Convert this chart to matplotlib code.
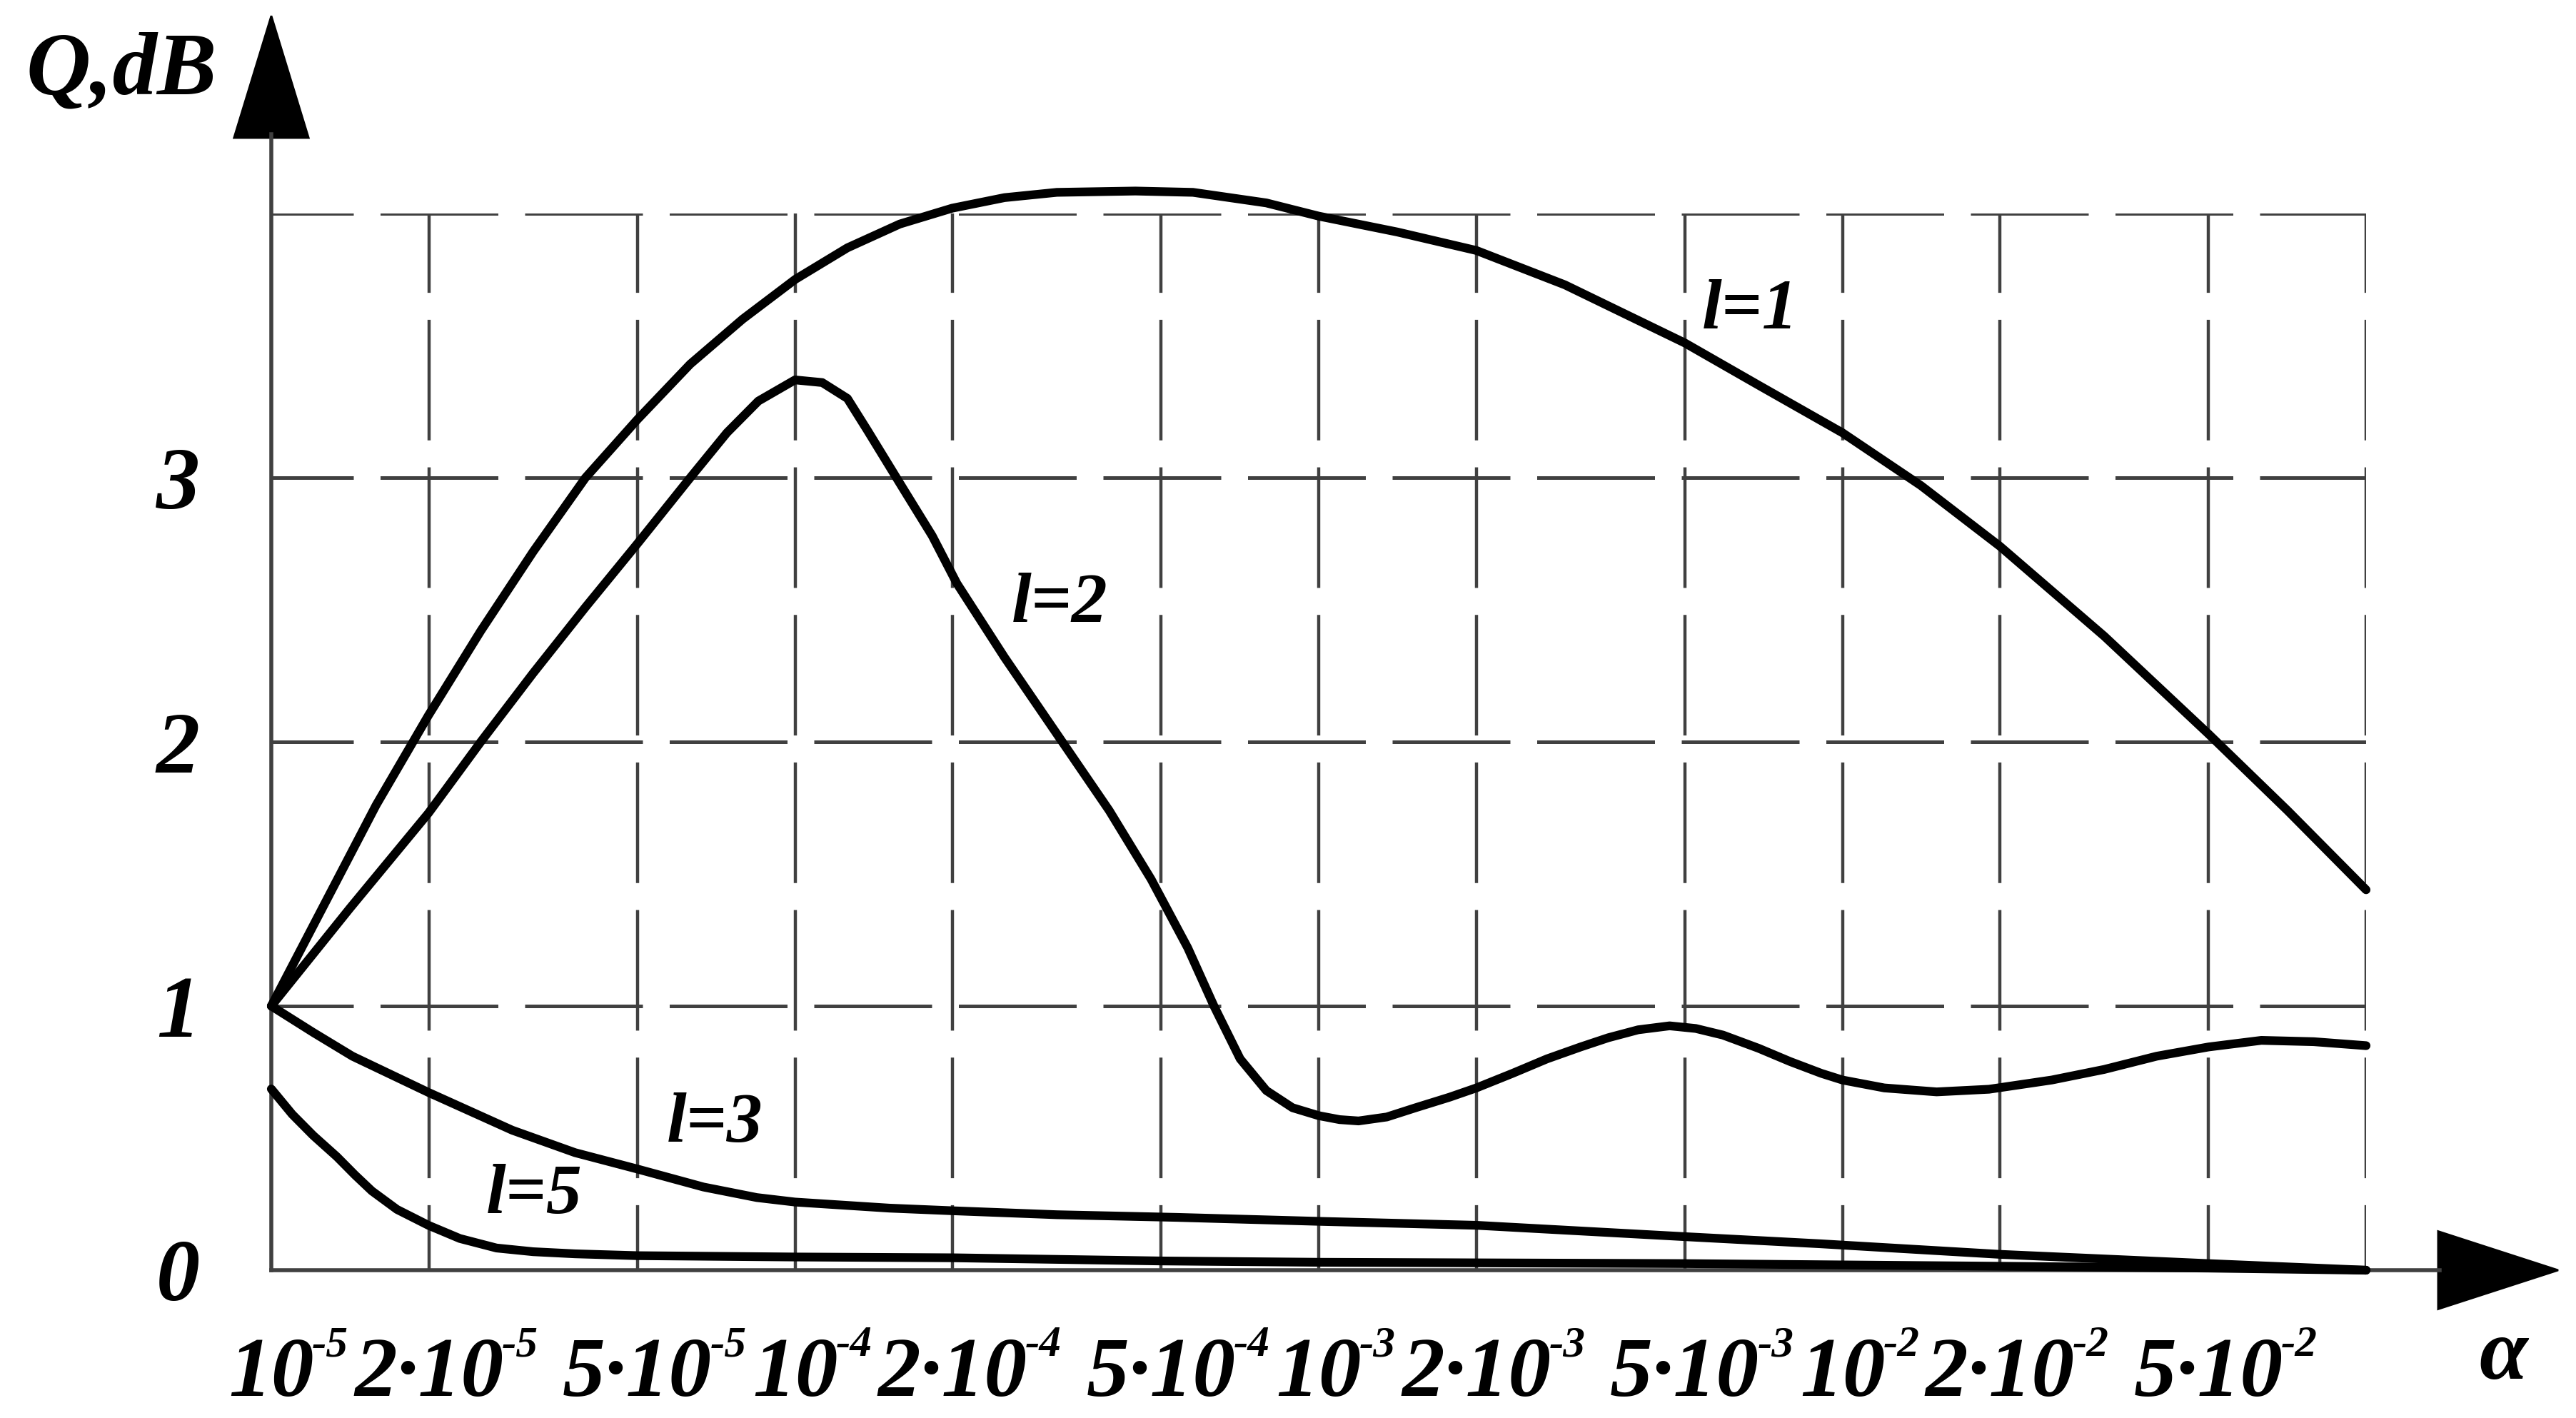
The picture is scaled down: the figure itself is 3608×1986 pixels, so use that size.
import numpy as np
import matplotlib.pyplot as plt
from matplotlib.patches import Polygon

# x ticks (alpha) and labels: base text + exponent
x_ticks = [1e-5, 2e-5, 5e-5, 1e-4, 2e-4, 5e-4, 1e-3, 2e-3, 5e-3, 1e-2, 2e-2, 5e-2]
x_base = ['10', '2\u00b710', '5\u00b710', '10', '2\u00b710', '5\u00b710',
          '10', '2\u00b710', '5\u00b710', '10', '2\u00b710', '5\u00b710']
x_exp = ['-5', '-5', '-5', '-4', '-4', '-4', '-3', '-3', '-3', '-2', '-2', '-2']
x_grid = [2e-5, 5e-5, 1e-4, 2e-4, 5e-4, 1e-3, 2e-3, 5e-3, 1e-2, 2e-2, 5e-2, 1e-1]
y_ticks = [0, 1, 2, 3]
y_labels = ['0', '1', '2', '3']
y_grid = [1, 2, 3, 4]

# curves, x given as log10(alpha)
l1_logx = [-5.0, -4.9, -4.8, -4.7, -4.6, -4.5, -4.4, -4.301, -4.2, -4.1,
           -4.0, -3.9, -3.8, -3.7, -3.6, -3.5, -3.35, -3.24, -3.1, -3.0,
           -2.85, -2.699, -2.53, -2.301, -2.16, -2.0, -1.85, -1.699, -1.5, -1.301,
           -1.15, -1.0]
l1_q = [1.0, 1.38, 1.76, 2.1, 2.42, 2.72, 3.0, 3.22, 3.43, 3.6,
        3.75, 3.87, 3.96, 4.02, 4.06, 4.08, 4.085, 4.08, 4.04, 3.99,
        3.93, 3.86, 3.73, 3.51, 3.35, 3.17, 2.97, 2.74, 2.40, 2.03,
        1.74, 1.44]

l2_logx = [-5.0, -4.85, -4.7, -4.6, -4.5, -4.4, -4.301, -4.2, -4.13, -4.07,
           -4.0, -3.948, -3.9, -3.862, -3.794, -3.738, -3.691, -3.6, -3.5, -3.4,
           -3.32, -3.25, -3.2, -3.15, -3.1, -3.05, -3.0, -2.96, -2.924, -2.87,
           -2.815, -2.75, -2.699, -2.63, -2.564, -2.5, -2.447, -2.39, -2.33, -2.28,
           -2.228, -2.16, -2.1, -2.04, -2.0, -1.92, -1.82, -1.72, -1.6, -1.5,
           -1.4, -1.301, -1.2, -1.1, -1.0]
l2_q = [1.0, 1.37, 1.73, 2.0, 2.26, 2.51, 2.75, 3.0, 3.17, 3.29,
        3.37, 3.36, 3.3, 3.18, 2.96, 2.78, 2.60, 2.32, 2.03, 1.74,
        1.48, 1.22, 1.0, 0.80, 0.68, 0.615, 0.585, 0.57, 0.565, 0.58,
        0.615, 0.655, 0.69, 0.745, 0.80, 0.845, 0.88, 0.91, 0.925, 0.915,
        0.89, 0.84, 0.79, 0.745, 0.72, 0.69, 0.675, 0.685, 0.72, 0.76,
        0.81, 0.845, 0.87, 0.865, 0.85]

l3_logx = [-5.0, -4.92, -4.845, -4.7, -4.54, -4.42, -4.301, -4.175, -4.073, -4.0,
           -3.82, -3.699, -3.5, -3.271, -3.0, -2.699, -2.301, -2.042, -1.699, -1.301,
           -1.0]
l3_q = [1.0, 0.90, 0.81, 0.673, 0.53, 0.445, 0.383, 0.315, 0.275, 0.258,
        0.235, 0.225, 0.21, 0.20, 0.185, 0.17, 0.127, 0.10, 0.06, 0.025,
        0.0]

l5_logx = [-5.0, -4.96, -4.92, -4.875, -4.84, -4.808, -4.76, -4.7, -4.64, -4.57,
           -4.5, -4.42, -4.3, -4.0, -3.699, -3.301, -3.0, -2.301, -2.0, -1.699,
           -1.301, -1.0]
l5_q = [0.686, 0.59, 0.51, 0.43, 0.36, 0.30, 0.23, 0.17, 0.12, 0.084,
        0.07, 0.062, 0.055, 0.05, 0.047, 0.035, 0.03, 0.025, 0.02, 0.015,
        0.008, 0.0]

curve_labels = ['l=1', 'l=2', 'l=3', 'l=5']
label_logx = [-2.176, -3.494, -4.153, -4.498]
label_q = [3.63, 2.52, 0.55, 0.28]

W, H = 3608, 1986
serif = dict(family='Liberation Serif', style='italic', weight='bold')

fig = plt.figure(figsize=(W / 200, H / 200), dpi=200)
ax = fig.add_axes([380 / W, 1 - 1779 / H, (3314 - 380) / W, (1779 - 299) / H])
ax.set_xscale('log')
ax.set_xlim(1e-5, 1e-1)
ax.set_ylim(0, 4)
for s in ax.spines.values():
    s.set_visible(False)

gc = '#404040'
# dashed grid
for y in y_grid:
    ax.plot([1e-5, 1e-1], [y, y], color=gc, lw=1.8, ls=(10, (33, 7.5)), zorder=1)
for x in x_grid:
    ax.plot([x, x], [4, 0], color=gc, lw=1.6, ls=(13, (38, 8.5)), zorder=1)

for lx, q in [(l1_logx, l1_q), (l2_logx, l2_q), (l3_logx, l3_q), (l5_logx, l5_q)]:
    ax.plot(10 ** np.array(lx), q, color='black', lw=4.4, zorder=3, clip_on=False,
            solid_joinstyle='round', solid_capstyle='round')

for t, lx, q in zip(curve_labels, label_logx, label_q):
    ax.text(10 ** lx, q, t, fontsize=36, ha='center', va='center', zorder=4, **serif)

ax.minorticks_off()
ax.set_xticks(x_ticks)
ax.tick_params(axis='x', length=0, labelbottom=False)
ax.set_yticks(y_ticks, y_labels, fontsize=44, **serif)
ax.tick_params(axis='y', length=0, pad=36)

# x tick labels: base centred on tick, small exponent raised at its right
xt = ax.get_xaxis_transform()
for x, b, e in zip(x_ticks, x_base, x_exp):
    t = ax.text(x, -0.119, b, transform=xt, fontsize=43, ha='center',
                va='baseline', **serif)
    ax.annotate(e, xy=(1, 1), xycoords=t, xytext=(-1, -4), textcoords='offset points',
                fontsize=22, ha='left', va='center', **serif)

# axes with arrows
tr = ax.transAxes
ax.plot([0, 0], [0, 1.075], color=gc, lw=2.0, transform=tr, clip_on=False)
ax.plot([0, 1.035], [0, 0], color=gc, lw=2.0, transform=tr, clip_on=False)
ax.add_patch(Polygon([[-0.0178, 1.0716], [0.0178, 1.0716], [0, 1.187]], closed=True,
                     color='black', transform=tr, clip_on=False))
ax.add_patch(Polygon([[1.0344, -0.0368], [1.0344, 0.0368], [1.0917, 0]], closed=True,
                     color='black', transform=tr, clip_on=False))

fig.text(170 / W, 1 - 102 / H, 'Q,dB', fontsize=45, ha='center', va='center', **serif)
fig.text(3506 / W, 1 - 1902 / H, '\u03b1', fontsize=44, ha='center', va='center', **serif)

fig.savefig('out.png', dpi=200, facecolor='white')
